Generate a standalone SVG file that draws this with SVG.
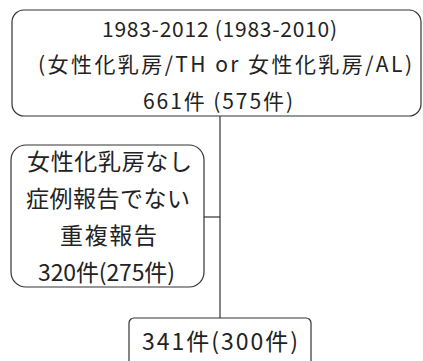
<svg xmlns="http://www.w3.org/2000/svg" width="423" height="361" viewBox="0 0 423 361">
<style>
.box{fill:#fff;stroke:#333;stroke-width:1.2}
.ln{stroke:#333;stroke-width:1.2;fill:none}
text{font-family:"Noto Sans CJK JP","Noto Sans",sans-serif;fill:#222;text-anchor:middle}
.t{font-size:21px}
.l{font-size:23px}
</style>
<rect width="423" height="361" fill="#fff"/>
<g id="connectors">
<line class="ln" x1="220" y1="116" x2="220" y2="318"/>
<line class="ln" x1="204" y1="217" x2="220" y2="217"/>
</g>
<g id="top">
<rect class="box" x="12" y="10" width="409" height="106" rx="12"/>
<text class="t" x="219.5" y="37" textLength="235">1983-2012 (1983-2010)</text>
<text class="t" x="225" y="72" textLength="374">(女性化乳房/TH or 女性化乳房/AL)</text>
<text class="t" x="218" y="109" textLength="150">661件 (575件)</text>
</g>
<g id="excluded">
<rect class="box" x="11" y="145" width="193" height="142" rx="15"/>
<text class="l" x="109.5" y="170" textLength="165">女性化乳房なし</text>
<text class="l" x="108" y="207" textLength="164">症例報告でない</text>
<text class="l" x="108.5" y="244" textLength="97">重複報告</text>
<text class="l" x="106.5" y="281" textLength="137">320件(275件)</text>
</g>
<g id="result">
<rect class="box" x="129" y="318" width="182" height="50" rx="5"/>
<text class="l" x="220" y="350" textLength="156">341件(300件)</text>
</g>
</svg>
